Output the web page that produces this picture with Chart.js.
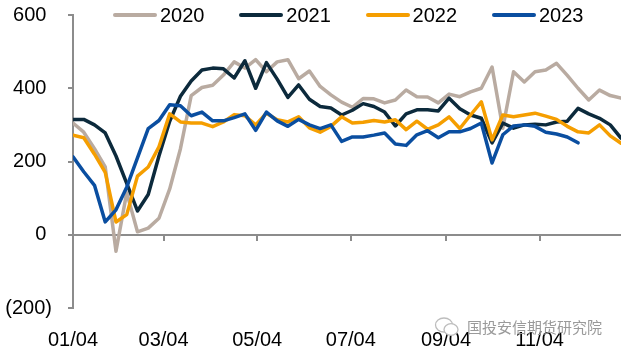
<!DOCTYPE html>
<html>
<head>
<meta charset="utf-8">
<script src="https://cdn.jsdelivr.net/npm/chart.js@4"></script>
<style>
html,body{margin:0;padding:0;background:#fff;}
#wrap{position:relative;width:621px;height:355px;overflow:hidden;}
#legend{position:absolute;left:113px;top:3px;display:flex;font:20px "Liberation Sans",Arial,sans-serif;color:#000;}
.item{display:flex;align-items:center;width:126.3px;height:24px;white-space:nowrap;}
.swatch{width:44px;height:4px;margin-right:3px;border-radius:2px;}
#wm{position:absolute;left:434px;top:316px;display:flex;align-items:center;font:15px "Noto Sans CJK SC",sans-serif;color:#9a9a9a;}
#wm svg{margin-right:7px;}
</style>
</head>
<body>
<div id="wrap">
  <canvas id="c" width="621" height="355"></canvas>
  <div id="legend"></div>
  <div id="wm"><svg width="26" height="20" viewBox="0 0 26 20"><ellipse cx="10" cy="8" rx="8.5" ry="7" fill="none" stroke="#bdbdbd" stroke-width="1.3"/><ellipse cx="17" cy="12.5" rx="7" ry="5.8" fill="#fff" stroke="#bdbdbd" stroke-width="1.3"/></svg><span>国投安信期货研究院</span></div>
</div>
<script>
// ---- data ----
const seriesNames = ['2020', '2021', '2022', '2023'];
const values2020 = [305, 280, 235, 185, -45, 115, 8, 18, 45, 125, 235, 380, 402, 408, 436, 472, 455, 478, 445, 472, 478, 426, 447, 405, 382, 362, 348, 372, 371, 360, 368, 395, 377, 376, 360, 384, 377, 390, 400, 458, 291, 445, 417, 445, 450, 468, 435, 400, 368, 395, 380, 373];
const values2021 = [315, 315, 300, 278, 215, 140, 65, 110, 215, 310, 378, 420, 450, 455, 453, 428, 475, 400, 470, 425, 375, 409, 370, 350, 346, 327, 340, 358, 350, 335, 297, 330, 341, 341, 338, 373, 344, 327, 318, 251, 305, 291, 300, 302, 300, 308, 310, 345, 330, 318, 300, 264];
const values2022 = [272, 265, 220, 170, 35, 55, 160, 185, 240, 330, 308, 305, 305, 295, 308, 328, 325, 300, 332, 314, 308, 322, 292, 280, 296, 322, 305, 307, 312, 308, 314, 287, 310, 288, 300, 322, 290, 327, 363, 259, 327, 322, 327, 332, 324, 315, 296, 281, 278, 300, 270, 250];
const values2023 = [213, 172, 135, 35, 68, 130, 210, 290, 312, 355, 352, 325, 335, 311, 311, 320, 330, 285, 335, 311, 296, 315, 300, 290, 300, 255, 267, 267, 272, 278, 248, 244, 273, 284, 265, 281, 281, 290, 305, 196, 273, 297, 300, 296, 280, 275, 267, 251];
const xTickDays = [0, 59, 120, 181, 243, 304];
const xTickLabels = ['01/04', '03/04', '05/04', '07/04', '09/04', '11/04'];
const yTickValues = [-200, 0, 200, 400, 600];
const yTickLabels = ['(200)', '0', '200', '400', '600'];
const DAYS_PER_WEEK = 7;
const X_MAX_DAYS = 357;

// ---- styles ----
const seriesValues = [values2020, values2021, values2022, values2023];
const seriesColors = ['#B9ABA1', '#0C2A3C', '#F59E00', '#0A4EA0'];
const axisColor = '#8c8c8c';
const FONT = {family: '"Liberation Sans", Arial, sans-serif', size: 20};

// legend (HTML)
const legendEl = document.getElementById('legend');
seriesNames.forEach((name, i) => {
  const it = document.createElement('div');
  it.className = 'item';
  const sw = document.createElement('span');
  sw.className = 'swatch';
  sw.style.background = seriesColors[i];
  const tx = document.createElement('span');
  tx.textContent = name;
  it.appendChild(sw); it.appendChild(tx);
  legendEl.appendChild(it);
});

const datasets = seriesNames.map((name, i) => ({
  label: name,
  data: seriesValues[i].map((v, k) => ({x: k * DAYS_PER_WEEK, y: v})),
  borderColor: seriesColors[i],
  backgroundColor: seriesColors[i],
  borderWidth: 3.5,
  pointRadius: 0,
  tension: 0,
  fill: false,
  borderJoinStyle: 'round',
  borderCapStyle: 'round',
  order: seriesNames.length - i
}));

const setXTicks = s => { s.ticks = xTickDays.map(v => ({value: v})); };

new Chart(document.getElementById('c'), {
  type: 'line',
  data: {datasets},
  options: {
    responsive: false,
    animation: false,
    layout: {padding: {top: 15, left: 0, right: 0, bottom: 0}},
    plugins: {legend: {display: false}, tooltip: {enabled: false}},
    scales: {
      x: {
        type: 'linear', min: 0, max: X_MAX_DAYS,
        afterBuildTicks: setXTicks,
        ticks: {callback: (v, i) => xTickLabels[i], font: FONT, color: '#000', padding: 12, maxRotation: 0, autoSkip: false},
        grid: {display: false},
        border: {display: false},
        afterFit: s => { s.height = 47; s.paddingLeft = 0; s.paddingRight = 0; }
      },
      x2: {
        type: 'linear', axis: 'x', position: {y: 0}, min: 0, max: X_MAX_DAYS,
        afterBuildTicks: setXTicks,
        ticks: {display: false},
        grid: {display: true, drawOnChartArea: false, drawTicks: true, tickLength: 5, color: axisColor, lineWidth: 2},
        border: {display: true, color: axisColor, width: 2}
      },
      y: {
        min: -200, max: 600,
        afterBuildTicks: s => { s.ticks = yTickValues.map(v => ({value: v})); },
        ticks: {callback: (v, i) => yTickLabels[i] + (yTickValues[i] >= 0 ? ' ' : ''), font: FONT, color: '#000', padding: 16},
        grid: {display: true, drawOnChartArea: false, drawTicks: true, tickLength: 5, color: axisColor, lineWidth: 2},
        border: {display: true, color: axisColor, width: 2},
        afterFit: s => { s.width = 73; s.paddingTop = 0; s.paddingBottom = 0; }
      }
    }
  }
});
</script>
</body>
</html>
